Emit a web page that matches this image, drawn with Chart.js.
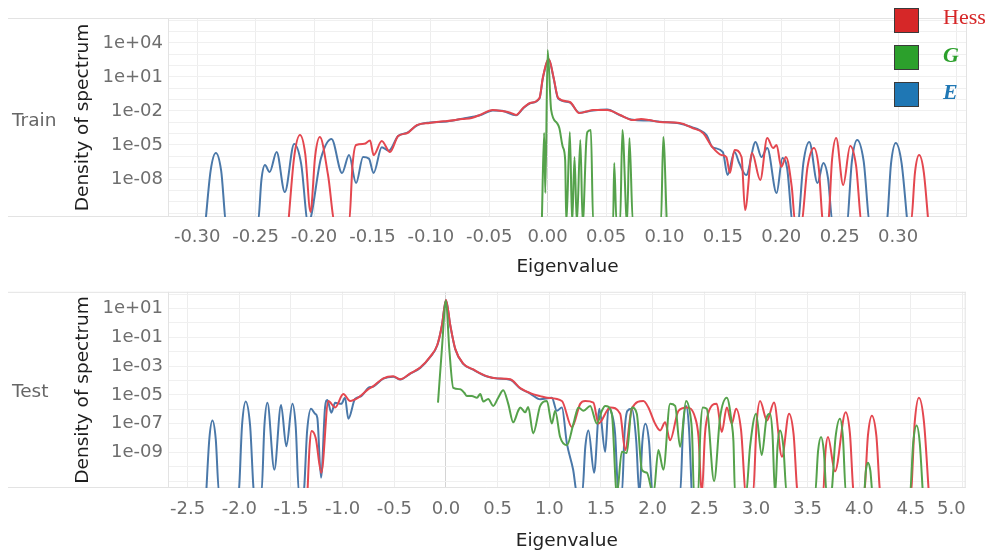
<!DOCTYPE html>
<html><head><meta charset="utf-8">
<script src="https://cdn.jsdelivr.net/npm/chart.js@4/dist/chart.umd.min.js"></script>
<style>
html,body{margin:0;padding:0;background:#fff;}
#wrap{position:relative;width:988px;height:552px;overflow:hidden;background:#fff;}
canvas{position:absolute;left:0;}
.row{position:absolute;left:12px;font-family:"DejaVu Sans";font-size:18.5px;line-height:20px;color:#666;}
.sw{position:absolute;left:894px;width:23px;height:23px;border:1.5px solid #3a3a3a;}
.lt{position:absolute;left:943px;font-family:"Liberation Serif";font-size:22px;line-height:22px;}
</style></head><body>
<div id="wrap">
<canvas id="c1" width="988" height="276" style="top:0;width:988px;height:276px"></canvas>
<canvas id="c2" width="988" height="276" style="top:276px;width:988px;height:276px"></canvas>
<div class="row" style="top:110px">Train</div>
<div class="row" style="top:381px">Test</div>
<div class="sw" style="top:8px;background:#d62728"></div>
<div class="sw" style="top:45px;background:#2ca02c"></div>
<div class="sw" style="top:82px;background:#1f77b4"></div>
<div class="lt" style="top:6px;color:#d62728">Hess</div>
<div class="lt" style="top:44px;color:#2ca02c;font-style:italic;font-weight:bold">G</div>
<div class="lt" style="top:81px;color:#1f77b4;font-style:italic;font-weight:bold">E</div>
</div>
<script>
// ---------------- DATA (eigenvalue, log10 of spectral density) ----------------
// values of -11.9 mean the density is below the visible axis range (effectively zero)
const seriesNames = ['Hess', 'G', 'E'];

// Train panel
const trainHessX = [-0.222,-0.217,-0.212,-0.2075,-0.203,-0.199,-0.195,-0.188,-0.182,-0.170,-0.167,-0.164,-0.157,-0.152,-0.149,-0.142,-0.135,-0.128,-0.120,-0.112,-0.101,-0.093,-0.086,-0.073,-0.065,-0.058,-0.047,-0.039,-0.032,-0.027,-0.021,-0.015,-0.007,-0.004,0.001,0.005,0.009,0.019,0.027,0.033,0.039,0.051,0.062,0.073,0.080,0.087,0.096,0.113,0.124,0.133,0.141,0.149,0.153,0.156,0.160,0.166,0.169,0.175,0.182,0.188,0.193,0.196,0.200,0.204,0.209,0.212,0.217,0.2225,0.228,0.232,0.236,0.240,0.2435,0.247,0.253,0.259,0.264,0.269,0.311,0.3145,0.318,0.322,0.326];
const trainHessLog10 = [-11.9,-6.06,-4.12,-5.8,-10.9,-5.95,-4.30,-7.65,-11.9,-11.9,-6.73,-5.0,-4.9,-4.6,-5.89,-4.65,-5.62,-4.21,-3.94,-3.24,-3.06,-2.95,-2.88,-2.71,-2.62,-2.35,-1.91,-2.0,-2.15,-2.35,-1.74,-1.30,-0.85,1.0,2.59,1.0,-0.85,-1.21,-2.18,-2.05,-1.91,-1.91,-2.35,-2.80,-2.70,-2.80,-2.97,-3.06,-3.50,-3.94,-5.18,-5.89,-6.06,-7.47,-5.44,-6.06,-10.74,-5.71,-8.09,-4.38,-5.27,-5.0,-6.94,-6.06,-8.71,-11.9,-11.9,-6.93,-5.27,-6.93,-11.9,-11.9,-6.26,-4.38,-8.53,-5.09,-6.79,-11.9,-11.9,-7.39,-5.89,-7.39,-11.9];

const trainGX = [-0.005,-0.003,-0.002,0.000,0.003,0.008,0.010,0.013,0.015,0.016,0.019,0.021,0.023,0.025,0.028,0.030,0.033,0.034,0.037,0.039,0.056,0.057,0.059,0.062,0.064,0.068,0.070,0.073,0.097,0.099,0.102];
const trainGLog10 = [-11.9,-3.94,-9.24,3.38,-1.91,-3.06,-3.50,-5.18,-6.33,-11.9,-3.86,-11.9,-6.06,-11.9,-4.56,-11.9,-4.83,-3.86,-3.68,-11.9,-11.9,-6.59,-11.9,-11.9,-3.68,-11.9,-4.38,-11.9,-11.9,-4.30,-11.9];

const trainEX = [-0.293,-0.2885,-0.284,-0.2795,-0.275,-0.248,-0.245,-0.242,-0.238,-0.232,-0.225,-0.217,-0.211,-0.205,-0.194,-0.185,-0.176,-0.170,-0.164,-0.158,-0.153,-0.149,-0.142,-0.136,-0.128,
  -0.120,-0.112,-0.101,-0.086,-0.073,-0.058,-0.047,-0.039,-0.027,-0.021,-0.015,-0.007,-0.004,0.001,0.005,0.009,0.019,0.027,0.039,0.051,0.062,0.073,0.087,0.096,0.113,0.124,
  0.130,0.136,0.141,0.150,0.154,0.160,0.164,0.170,0.178,0.183,0.188,0.196,0.201,0.205,0.210,0.214,0.219,0.224,0.231,0.236,0.240,0.244,0.256,0.2605,0.265,0.2705,0.276,0.290,0.294,0.298,0.303,0.308];
const trainELog10 = [-11.9,-7.26,-5.71,-7.26,-11.9,-11.9,-8.05,-6.77,-7.39,-5.62,-9.15,-4.91,-6.66,-11.9,-6.15,-4.47,-7.47,-5.89,-8.36,-6.06,-6.2,-7.47,-5.2,-5.5,-4.21,
  -3.9,-3.28,-3.02,-2.92,-2.68,-2.38,-1.95,-1.98,-2.38,-1.78,-1.32,-0.9,0.95,2.55,0.95,-0.9,-1.25,-2.15,-1.95,-1.88,-2.38,-2.78,-2.85,-2.95,-3.1,-3.45,
  -3.68,-4.12,-5.18,-5.62,-7.65,-5.62,-6.59,-7.65,-4.74,-6.06,-5.27,-9.24,-6.15,-7.03,-11.9,-11.9,-6.53,-4.74,-8.36,-6.59,-7.92,-11.9,-11.9,-6.4,-4.56,-6.4,-11.9,-11.9,-6.6,-4.83,-6.6,-11.9];

// Test panel
const testHessX = [-1.341,-1.320,-1.300,-1.260,-1.206,-1.138,-1.073,-0.993,-0.928,-0.848,-0.751,
  -0.703,-0.606,-0.510,-0.442,-0.345,-0.249,-0.152,-0.084,-0.039,0,0.042,0.090,0.167,0.264,0.399,0.496,0.622,0.719,0.815,
  0.912,0.977,1.122,1.219,1.299,1.347,1.427,1.476,1.589,1.686,1.734,1.799,1.911,1.959,2.024,2.073,2.121,2.169,2.250,2.331,2.411,2.444,2.476,2.507,2.537,2.621,2.669,2.718,2.766,2.808,2.856,2.904,2.972,3.006,3.040,3.107,3.175,3.252,3.320,3.364,3.407,3.649,3.673,3.697,3.765,3.868,3.909,3.949,4.045,4.084,4.122,4.165,4.207,4.497,4.537,4.577,4.626,4.674];
const testHessLog10 = [-11.9,-8.6,-7.5,-8.0,-10.40,-5.42,-5.87,-4.94,-5.42,-5.19,-4.60,
  -4.39,-3.85,-3.71,-3.91,-3.50,-3.10,-2.34,-1.53,-0.16,1.61,-0.16,-1.80,-2.82,-3.23,-3.71,-3.85,-3.91,-4.53,-4.87,
  -5.08,-5.19,-5.42,-7.24,-5.62,-5.42,-5.53,-6.99,-5.87,-6.30,-8.83,-5.96,-5.42,-5.87,-6.99,-7.46,-6.90,-8.15,-6.10,-5.87,-6.56,-7.9,-11.9,-7.7,-6.30,-5.62,-7.58,-5.87,-6.99,-5.96,-7.45,-11.9,-11.9,-7.04,-5.42,-6.78,-5.53,-9.29,-6.30,-7.7,-11.9,-11.9,-8.92,-7.92,-10.31,-6.21,-7.63,-11.9,-11.9,-7.81,-6.44,-7.81,-11.9,-11.9,-6.87,-5.19,-6.87,-11.9];

const testGX = [-0.077,-0.039,0,0.032,0.071,0.138,0.177,0.203,0.251,0.300,0.332,0.361,0.409,0.457,0.506,0.554,0.603,0.651,0.699,0.719,0.767,0.796,0.844,0.912,0.977,1.025,1.057,1.105,1.170,1.234,1.282,1.331,1.396,1.460,1.509,1.541,1.605,1.654,1.702,1.750,1.799,1.847,1.896,1.944,2.008,2.056,2.104,2.169,2.218,2.266,
  2.324,2.363,2.382,2.401,2.440,2.463,2.486,2.524,2.595,2.653,2.718,2.766,2.782,2.798,2.904,2.943,3.001,3.056,3.104,3.136,3.160,3.185,3.209,3.233,3.265,3.298,3.572,3.601,3.630,3.657,3.685,3.726,3.770,3.813,3.842,3.871,4.045,4.064,4.084,4.107,4.130,4.490,4.522,4.555,4.585,4.616];
const testGLog10 = [-5.53,-1.78,1.55,-1.80,-4.51,-4.60,-4.85,-5.08,-5.08,-5.19,-4.94,-5.46,-5.28,-5.76,-5.19,-4.67,-5.62,-6.90,-6.10,-5.87,-6.21,-5.83,-7.67,-5.76,-5.42,-6.99,-6.10,-7.92,-8.49,-6.99,-5.87,-6.10,-5.76,-6.99,-6.10,-5.76,-6.30,-11.9,-8.95,-9.03,-5.87,-6.30,-10.19,-10.40,-11.9,-8.83,-10.19,-5.62,-5.76,-8.60,
  -5.42,-6.30,-7.7,-11.9,-11.9,-7.38,-5.87,-5.96,-10.99,-6.56,-5.19,-6.99,-8.2,-11.9,-11.9,-8.60,-6.30,-9.17,-6.56,-6.30,-7.7,-11.9,-8.57,-7.46,-8.57,-11.9,-11.9,-8.92,-7.92,-8.92,-11.9,-11.9,-7.96,-6.65,-7.96,-11.9,-11.9,-10.25,-9.70,-10.25,-11.9,-11.9,-8.32,-7.12,-8.32,-11.9];

const testEX = [-2.321,-2.290,-2.260,-2.228,-2.195,-2.009,-1.973,-1.938,-1.896,-1.854,-1.786,-1.757,-1.728,-1.661,-1.596,-1.545,-1.486,-1.454,-1.422,-1.380,-1.343,-1.306,-1.267,-1.245,-1.209,-1.170,-1.148,-1.109,-1.073,-1.013,-0.977,-0.945,-0.880,-0.819,-0.751,
  -0.703,-0.606,-0.510,-0.442,-0.345,-0.249,-0.152,-0.084,-0.039,0,0.042,0.090,0.167,0.264,0.399,0.496,0.622,0.719,0.815,0.912,
  1.025,1.073,1.122,1.170,1.231,1.270,1.318,1.349,1.379,1.434,1.485,1.541,1.573,1.605,1.637,1.669,1.702,1.729,1.756,1.799,1.841,1.872,1.901,1.930,1.965,2.000,2.266,2.295,2.324,2.352,2.379];
const testELog10 = [-11.9,-8.06,-6.78,-8.06,-11.9,-11.9,-7.07,-5.46,-7.07,-11.9,-11.9,-7.14,-5.55,-10.19,-5.69,-8.56,-5.62,-7.19,-11.9,-11.9,-7.45,-5.96,-6.30,-6.58,-10.74,-5.87,-5.35,-6.24,-5.55,-5.62,-5.19,-6.65,-5.28,-5.08,-4.51,
  -4.42,-3.87,-3.73,-3.93,-3.52,-3.12,-2.36,-1.55,-0.18,1.58,-0.18,-1.82,-2.84,-3.25,-3.72,-3.86,-3.95,-4.55,-4.90,-5.30,
  -5.19,-6.10,-5.87,-8.35,-10.19,-11.9,-11.9,-8.57,-7.46,-10.40,-5.96,-8.95,-5.87,-6.30,-7.7,-11.9,-11.9,-7.55,-6.10,-5.96,-8.15,-11.9,-8.23,-7.0,-8.23,-11.9,-11.9,-7.3,-5.76,-7.3,-11.9];

// Tick values and labels
const trainXTicks = [-0.30,-0.25,-0.20,-0.15,-0.10,-0.05,0.00,0.05,0.10,0.15,0.20,0.25,0.30];
const trainXTickLabels = ['-0.30','-0.25','-0.20','-0.15','-0.10','-0.05','0.00','0.05','0.10','0.15','0.20','0.25','0.30'];
const trainXGrid = [-0.30,-0.25,-0.20,-0.15,-0.10,-0.05,0.00,0.05,0.10,0.15,0.20,0.25,0.30,0.35];
const trainYTickExp = [4,1,-2,-5,-8];
const trainYTickLabels = ['1e+04','1e+01','1e-02','1e-05','1e-08'];
const trainYGridExp = [-11,-10,-9,-8,-7,-6,-5,-4,-3,-2,-1,0,1,2,3,4,5,6];

const testXTicks = [-2.5,-2.0,-1.5,-1.0,-0.5,0.0,0.5,1.0,1.5,2.0,2.5,3.0,3.5,4.0,4.5,5.0];
const testXTickLabels = ['-2.5','-2.0','-1.5','-1.0','-0.5','0.0','0.5','1.0','1.5','2.0','2.5','3.0','3.5','4.0','4.5','5.0'];
const testXGrid = testXTicks;
const testYTickExp = [1,-1,-3,-5,-7,-9];
const testYTickLabels = ['1e+01','1e-01','1e-03','1e-05','1e-07','1e-09'];
const testYGridExp = [-11,-10,-9,-8,-7,-6,-5,-4,-3,-2,-1,0,1,2];

// ---------------- STYLE ----------------
const COLORS = {Hess:'#e4474f', G:'#55a24b', E:'#4a78a9'};
const TICK_FONT = {family:'DejaVu Sans', size:18};
const TITLE_FONT = {family:'DejaVu Sans', size:18.5, lineHeight:1};

function ds(name, xs, logs, order){
  return {
    label: name,
    data: xs.map((x,i)=>({x:x, y:Math.pow(10, logs[i])})),
    borderColor: COLORS[name], backgroundColor: COLORS[name],
    borderWidth: 2, pointRadius: 0, pointHoverRadius: 0, fill: false,
    cubicInterpolationMode: 'monotone', clip: 0, order: order
  };
}

const framePlugin = {
  id:'frame',
  beforeDatasetsDraw(chart){
    const {ctx, chartArea:a} = chart;
    ctx.save(); ctx.strokeStyle = '#e3e3e3'; ctx.lineWidth = 1;
    ctx.beginPath();
    ctx.moveTo(8, a.top+0.5); ctx.lineTo(a.right, a.top+0.5);
    ctx.moveTo(8, a.bottom-0.5); ctx.lineTo(a.right, a.bottom-0.5);
    ctx.moveTo(a.left+0.5, a.top); ctx.lineTo(a.left+0.5, a.bottom);
    ctx.moveTo(a.right-0.5, a.top); ctx.lineTo(a.right-0.5, a.bottom);
    ctx.stroke(); ctx.restore();
  }
};
const lastLabelInside = {
  id:'lastLabelInside',
  beforeDraw(chart, args, o){
    if (!o || !o.enabled) return;
    const s = chart.scales.x;
    const items = s.getLabelItems();
    for (const it of items){
      if (it.label === o.label && it.options && it.options.translation){
        it.options.translation[0] = chart.chartArea.right;
        it.options.textAlign = 'right';
      }
    }
  }
};

function lookup(vals, labels, v){
  for (let i=0;i<vals.length;i++) if (Math.abs(vals[i]-v) < 1e-9) return labels[i];
  return '';
}

function makeOptions(p){
  return {
    responsive:false, maintainAspectRatio:false, animation:false, devicePixelRatio:1,
    events:[],
    layout:{padding:{left:0, right:p.padRight, top:p.padTop, bottom:0}},
    plugins:{legend:{display:false}, tooltip:{enabled:false},
      lastLabelInside:{enabled:p.lastInside, label:p.lastLabel}},
    scales:{
      x:{type:'linear', min:p.xMin, max:p.xMax, bounds:'data',
        afterBuildTicks:s=>{ s.ticks = p.xGrid.map(v=>({value:v})); },
        afterFit:s=>{ s.height = p.xAxisH; },
        grid:{drawTicks:false, lineWidth:1,
          color:c=> (c.tick && Math.abs(c.tick.value)<1e-9) ? '#d4d4d4' : '#ededed'},
        border:{display:false},
        ticks:{autoSkip:false, maxRotation:0, minRotation:0, padding:p.xTickPad, color:'#6e6e6e', font:TICK_FONT,
          callback:v=>lookup(p.xTicks, p.xLabels, v)},
        title:{display:true, text:'Eigenvalue', color:'#222', font:TITLE_FONT, padding:{top:0,bottom:p.xTitlePad}}
      },
      y:{type:'logarithmic', min:Math.pow(10,p.yMinExp), max:Math.pow(10,p.yMaxExp), bounds:'data',
        afterBuildTicks:s=>{ s.ticks = p.yGridExp.map(e=>({value:Math.pow(10,e)})); },
        afterFit:s=>{ s.width = 168; },
        grid:{drawTicks:false, color:'#f0f0f0', lineWidth:1},
        border:{display:false},
        ticks:{autoSkip:false, padding:5, color:'#6e6e6e', font:TICK_FONT,
          callback:v=>{ const e = Math.round(Math.log10(v)); const i = p.yTickExp.indexOf(e); return i>=0 ? p.yLabels[i] : ''; }},
        title:{display:true, text:'Density of spectrum', color:'#1e1e1e', font:TITLE_FONT, padding:{top:74,bottom:0}}
      }
    }
  };
}

new Chart(document.getElementById('c1'), {
  type:'line',
  data:{datasets:[
    ds('G', trainGX, trainGLog10, 0),
    ds('Hess', trainHessX, trainHessLog10, 1),
    ds('E', trainEX, trainELog10, 2)
  ]},
  options: makeOptions({padRight:21, padTop:18, xAxisH:59, xTickPad:10, xTitlePad:0,
    xMin:-0.325, xMax:0.359, xGrid:trainXGrid, xTicks:trainXTicks, xLabels:trainXTickLabels,
    yMinExp:-11.35, yMaxExp:6.2, yGridExp:trainYGridExp, yTickExp:trainYTickExp, yLabels:trainYTickLabels,
    lastInside:false}),
  plugins:[framePlugin, lastLabelInside]
});

new Chart(document.getElementById('c2'), {
  type:'line',
  data:{datasets:[
    ds('G', testGX, testGLog10, 0),
    ds('Hess', testHessX, testHessLog10, 1),
    ds('E', testEX, testELog10, 2)
  ]},
  options: makeOptions({padRight:22, padTop:13, xAxisH:64, xTickPad:11, xTitlePad:1.75,
    xMin:-2.69, xMax:5.03, xGrid:testXGrid, xTicks:testXTicks, xLabels:testXTickLabels,
    yMinExp:-11.46, yMaxExp:2.16, yGridExp:testYGridExp, yTickExp:testYTickExp, yLabels:testYTickLabels,
    lastInside:true, lastLabel:'5.0'}),
  plugins:[framePlugin, lastLabelInside]
});
</script>
</body></html>
